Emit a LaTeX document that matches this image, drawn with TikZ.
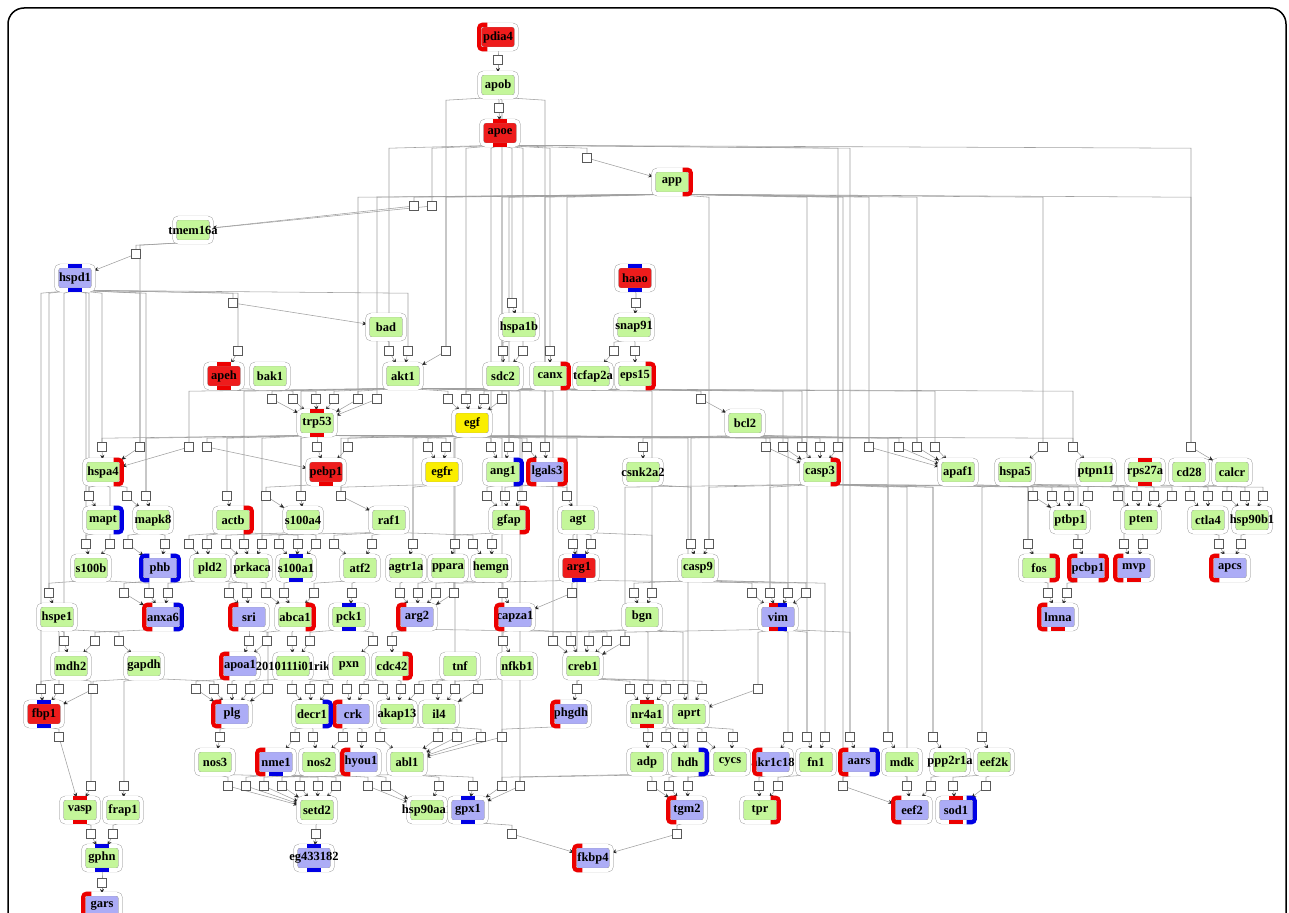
\documentclass[tikz,border=0pt]{standalone}
\usepackage{fontspec}
\setmainfont{Liberation Serif}
\usetikzlibrary{arrows.meta}
\pgfdeclarelayer{bg}
\pgfsetlayers{bg,main}
\definecolor{gfill}{RGB}{196,246,154}
\definecolor{rfill}{RGB}{238,28,28}
\definecolor{bfill}{RGB}{172,172,246}
\definecolor{yfill}{RGB}{250,238,0}
\definecolor{rbar}{RGB}{236,0,0}
\definecolor{bbar}{RGB}{0,0,228}
\tikzset{
  gene/.style={draw=gray!85, double=white, double distance=3.6pt, rounded corners=4pt,
    minimum width=37pt, minimum height=24pt, inner sep=0pt, text=black,
    font=\fontsize{12.5}{12.5}\selectfont\bfseries,
    execute at begin node={\hbox to 0pt\bgroup\hss}, execute at end node={\hss\egroup}},
  gn/.style={gene, fill=gfill},
  rn/.style={gene, fill=rfill},
  bn/.style={gene, fill=bfill},
  yn/.style={gene, fill=yfill},
  rxn/.style={draw=gray!70!black, fill=white, minimum size=8.5pt, inner sep=0pt, line width=0.6pt},
  link/.style={draw=gray!75, line width=0.55pt},
  arr/.style={-{Stealth[length=5pt,width=4pt,color=black!85]}},
  bar/.style={draw=#1, line width=4.2pt, rounded corners=3pt},
}
\begin{document}
\begin{tikzpicture}[x=1pt, y=-1pt]
  \useasboundingbox (0,0) rectangle (1289,912);
  \draw[line width=1.5pt, rounded corners=16pt] (8,940) -- (8,8) -- (1286,8) -- (1286,940);
  \path
    (498,37) node[rn] (pdia4) {pdia4}
    (498,85) node[gn] (apob) {apob}
    (500,133) node[rn] (apoe) {apoe}
    (672,182) node[gn] (app) {app}
    (193,230) node[gn] (tmem16a) {tmem16a}
    (75,278) node[bn] (hspd1) {hspd1}
    (635,278) node[rn] (haao) {haao}
    (386,327) node[gn] (bad) {bad}
    (519,327) node[gn] (hspa1b) {hspa1b}
    (634,327) node[gn] (snap91) {snap91}
    (224,376) node[rn] (apeh) {apeh}
    (270,376) node[gn] (bak1) {bak1}
    (403,376) node[gn] (akt1) {akt1}
    (503,376) node[gn] (sdc2) {sdc2}
    (550,376) node[gn] (canx) {canx}
    (593,376) node[gn] (tcfap2a) {tcfap2a}
    (635,376) node[gn] (eps15) {eps15}
    (317,423) node[gn] (trp53) {trp53}
    (472,423) node[yn] (egf) {egf}
    (745,423) node[gn] (bcl2) {bcl2}
    (103,472) node[gn] (hspa4) {hspa4}
    (326,472) node[rn] (pebp1) {pebp1}
    (442,472) node[yn] (egfr) {egfr}
    (503,472) node[gn] (ang1) {ang1}
    (547,472) node[bn] (lgals3) {lgals3}
    (643,472) node[gn] (csnk2a2) {csnk2a2}
    (820,472) node[gn] (casp3) {casp3}
    (958,472) node[gn] (apaf1) {apaf1}
    (1015,472) node[gn] (hspa5) {hspa5}
    (1096,472) node[gn] (ptpn11) {ptpn11}
    (1145,472) node[gn] (rps27a) {rps27a}
    (1189,472) node[gn] (cd28) {cd28}
    (1232,472) node[gn] (calcr) {calcr}
    (103,520) node[gn] (mapt) {mapt}
    (153,520) node[gn] (mapk8) {mapk8}
    (233,520) node[gn] (actb) {actb}
    (303,520) node[gn] (s100a4) {s100a4}
    (389,520) node[gn] (raf1) {raf1}
    (509,520) node[gn] (gfap) {gfap}
    (578,520) node[gn] (agt) {agt}
    (1070,520) node[gn] (ptbp1) {ptbp1}
    (1141,520) node[gn] (pten) {pten}
    (1208,520) node[gn] (ctla4) {ctla4}
    (1252,520) node[gn] (hsp90b1) {hsp90b1}
    (91,568) node[gn] (s100b) {s100b}
    (160,568) node[bn] (phb) {phb}
    (210,568) node[gn] (pld2) {pld2}
    (252,568) node[gn] (prkaca) {prkaca}
    (296,568) node[gn] (s100a1) {s100a1}
    (360,568) node[gn] (atf2) {atf2}
    (406,568) node[gn] (agtr1a) {agtr1a}
    (448,568) node[gn] (ppara) {ppara}
    (491,568) node[gn] (hemgn) {hemgn}
    (579,568) node[rn] (arg1) {arg1}
    (698,568) node[gn] (casp9) {casp9}
    (1039,568) node[gn] (fos) {fos}
    (1088,568) node[bn] (pcbp1) {pcbp1}
    (1134,568) node[bn] (mvp) {mvp}
    (1230,568) node[bn] (apcs) {apcs}
    (57,617) node[gn] (hspe1) {hspe1}
    (163,617) node[bn] (anxa6) {anxa6}
    (249,617) node[bn] (sri) {sri}
    (295,617) node[gn] (abca1) {abca1}
    (349,617) node[gn] (pck1) {pck1}
    (417,617) node[bn] (arg2) {arg2}
    (515,617) node[bn] (capza1) {capza1}
    (642,617) node[gn] (bgn) {bgn}
    (778,617) node[bn] (vim) {vim}
    (1058,617) node[bn] (lmna) {lmna}
    (71,666) node[gn] (mdh2) {mdh2}
    (144,666) node[gn] (gapdh) {gapdh}
    (240,666) node[bn] (apoa1) {apoa1}
    (293,666) node[gn] (rik) {2010111i01rik}
    (349,666) node[gn] (pxn) {pxn}
    (392,666) node[gn] (cdc42) {cdc42}
    (460,666) node[gn] (tnf) {tnf}
    (517,666) node[gn] (nfkb1) {nfkb1}
    (583,666) node[gn] (creb1) {creb1}
    (44,714) node[rn] (fbp1) {fbp1}
    (232,714) node[bn] (plg) {plg}
    (312,714) node[gn] (decr1) {decr1}
    (353,714) node[bn] (crk) {crk}
    (397,714) node[gn] (akap13) {akap13}
    (439,714) node[gn] (il4) {il4}
    (571,714) node[bn] (phgdh) {phgdh}
    (647,714) node[gn] (nr4a1) {nr4a1}
    (689,714) node[gn] (aprt) {aprt}
    (215,762) node[gn] (nos3) {nos3}
    (276,762) node[bn] (nme1) {nme1}
    (319,762) node[gn] (nos2) {nos2}
    (361,762) node[bn] (hyou1) {hyou1}
    (407,762) node[gn] (abl1) {abl1}
    (647,762) node[gn] (adp) {adp}
    (688,762) node[gn] (hdh) {hdh}
    (730,762) node[gn] (cycs) {cycs}
    (773,762) node[bn] (akr1c18) {akr1c18}
    (816,762) node[gn] (fn1) {fn1}
    (859,762) node[bn] (aars) {aars}
    (902,762) node[gn] (mdk) {mdk}
    (950,762) node[gn] (ppp2r1a) {ppp2r1a}
    (994,762) node[gn] (eef2k) {eef2k}
    (80,810) node[gn] (vasp) {vasp}
    (123,810) node[gn] (frap1) {frap1}
    (317,810) node[gn] (setd2) {setd2}
    (427,810) node[gn] (hsp90aa1) {hsp90aa1}
    (468,810) node[bn] (gpx1) {gpx1}
    (687,810) node[bn] (tgm2) {tgm2}
    (760,810) node[gn] (tpr) {tpr}
    (912,810) node[bn] (eef2) {eef2}
    (956,810) node[bn] (sod1) {sod1}
    (102,858) node[gn] (gphn) {gphn}
    (314,858) node[bn] (eg433182) {eg433182}
    (593,858) node[bn] (fkbp4) {fkbp4}
    (102,906) node[bn] (gars) {gars};
  \foreach \n/\c in {pdia4/rbar, lgals3/rbar, phb/bbar, pcbp1/rbar, mvp/rbar, apcs/rbar,
      anxa6/rbar, sri/rbar, arg2/rbar, capza1/rbar, lmna/rbar, apoa1/rbar, plg/rbar,
      crk/rbar, phgdh/rbar, nme1/rbar, hyou1/rbar, akr1c18/rbar, aars/rbar, tgm2/rbar,
      eef2/rbar, fkbp4/rbar, gars/rbar}
    \draw[bar=\c] ([xshift=8pt]\n.north west) -- (\n.north west) -- (\n.south west) -- ([xshift=8pt]\n.south west);
  \foreach \n/\c in {app/rbar, canx/rbar, eps15/rbar, hspa4/rbar, ang1/bbar, lgals3/rbar,
      casp3/rbar, mapt/bbar, actb/rbar, gfap/rbar, phb/bbar, fos/rbar, pcbp1/rbar,
      anxa6/bbar, abca1/rbar, cdc42/rbar, decr1/bbar, hdh/bbar, aars/bbar, tpr/rbar, sod1/bbar}
    \draw[bar=\c] ([xshift=-8pt]\n.north east) -- (\n.north east) -- (\n.south east) -- ([xshift=-8pt]\n.south east);
  \foreach \n/\c in {apoe/rbar, hspd1/bbar, haao/bbar, apeh/rbar, trp53/rbar, rps27a/rbar,
      s100a1/bbar, arg1/bbar, pck1/bbar, fbp1/bbar, nr4a1/rbar, vasp/rbar, gpx1/bbar,
      sod1/rbar, gphn/bbar, eg433182/bbar}
    \draw[bar=\c] ([xshift=-7pt]\n.north) -- ([xshift=7pt]\n.north)
      ([xshift=-7pt]\n.south) -- ([xshift=7pt]\n.south);
  \foreach \n/\c in {pebp1/rbar, mvp/rbar, lmna/rbar, nme1/bbar, gars/rbar}
    \draw[bar=\c] ([xshift=-7pt]\n.south) -- ([xshift=7pt]\n.south);
  \draw[bar=rbar] ([xshift=-9pt]vim.north) -- (vim.north) ([xshift=-9pt]vim.south) -- (vim.south);
  \draw[bar=bbar] (vim.north) -- ([xshift=9pt]vim.north) (vim.south) -- ([xshift=9pt]vim.south);
  \foreach \x/\y/\s/\t in {
      498/60/pdia4/apob, 499/108/apob/apoe, 587/158/apoe/app,
      414/206/app/tmem16a, 432/206/apoe/tmem16a, 136/254/tmem16a/hspd1,
      233/303/hspd1/bad, 512/303/apoe/hspa1b, 636/303/haao/snap91,
      238/351/hspd1/apeh, 389/351/bad/akt1, 408/351/hspd1/akt1, 446/351/app/akt1,
      503/351/hspa1b/sdc2, 523/351/apoe/sdc2, 550/351/apoe/canx, 614/351/snap91/tcfap2a,
      635/351/snap91/eps15,
      272/399/akt1/trp53, 293/399/bak1/trp53, 316/399/apeh/trp53, 334/399/akt1/trp53,
      358/399/akt1/trp53, 377/399/app/trp53, 448/399/akt1/egf, 466/399/sdc2/egf,
      484/399/canx/egf, 502/399/app/egf, 701/399/eps15/bcl2,
      102/447/trp53/hspa4, 140/447/hspd1/hspa4, 189/447/akt1/hspa4, 207/447/trp53/pebp1,
      317/447/trp53/pebp1, 348/447/egf/pebp1, 428/447/egf/egfr, 446/447/trp53/egfr,
      491/447/egf/ang1, 509/447/akt1/ang1, 527/447/egf/lgals3, 545/447/app/lgals3,
      643/447/bcl2/csnk2a2, 766/447/bcl2/casp3, 783/447/akt1/casp3, 802/447/trp53/casp3,
      820/447/bcl2/casp3, 838/447/apoe/casp3, 869/447/app/apaf1, 899/447/bcl2/apaf1,
      917/447/trp53/apaf1, 935/447/akt1/apaf1, 1043/447/app/hspa5, 1073/447/trp53/ptpn11,
      1191/447/app/calcr,
      89/496/hspa4/mapt, 127/496/hspa4/mapk8, 146/496/hspd1/mapk8, 227/496/trp53/actb,
      266/496/pebp1/s100a4, 301/496/trp53/s100a4, 341/496/egfr/raf1, 487/496/ang1/gfap,
      505/496/lgals3/gfap, 522/496/egf/gfap, 567/496/ang1/agt, 1033/496/hspa5/ptbp1,
      1052/496/apaf1/ptbp1, 1069/496/casp3/ptbp1, 1088/496/ptpn11/ptbp1, 1118/496/hspa5/pten,
      1137/496/ptpn11/pten, 1154/496/rps27a/pten, 1172/496/casp3/pten, 1190/496/cd28/ctla4,
      1208/496/rps27a/ctla4, 1227/496/calcr/hsp90b1, 1245/496/cd28/hsp90b1,
      1263/496/hspa5/hsp90b1,
      86/544/mapt/s100b, 110/544/hspa4/s100b, 128/544/mapk8/phb, 165/544/mapk8/phb,
      189/544/actb/pld2, 207/544/actb/pld2, 226/544/s100a4/prkaca, 244/544/actb/prkaca,
      262/544/raf1/prkaca, 279/544/s100a4/s100a1, 298/544/actb/s100a1, 316/544/s100a4/s100a1,
      334/544/raf1/atf2, 372/544/raf1/atf2, 413/544/egfr/agtr1a, 455/544/gfap/ppara,
      473/544/raf1/hemgn, 492/544/gfap/hemgn, 573/544/agt/arg1, 591/544/agt/arg1,
      691/544/csnk2a2/casp9, 709/544/casp3/casp9, 1028/544/hspa5/fos, 1078/544/ptbp1/pcbp1,
      1124/544/ptpn11/mvp, 1143/544/pten/mvp, 1219/544/ctla4/apcs, 1241/544/hsp90b1/apcs,
      49/593/s100b/hspe1, 124/593/phb/anxa6, 149/593/s100b/anxa6, 168/593/pld2/anxa6,
      229/593/prkaca/sri, 247/593/pld2/sri, 266/593/prkaca/abca1, 284/593/s100a1/abca1,
      314/593/atf2/abca1, 352/593/atf2/pck1, 400/593/agtr1a/arg2, 418/593/ppara/arg2,
      436/593/hemgn/arg2, 454/593/arg1/arg2, 503/593/hemgn/capza1, 572/593/arg1/capza1,
      634/593/casp9/bgn, 652/593/agt/bgn, 752/593/casp9/vim, 770/593/casp3/vim,
      788/593/arg1/vim, 806/593/casp9/vim, 1048/593/fos/lmna, 1067/593/pcbp1/lmna,
      64/641/hspe1/mdh2, 95/641/anxa6/mdh2, 119/641/hspe1/gapdh, 249/641/sri/apoa1,
      267/641/abca1/apoa1, 292/641/abca1/rik, 310/641/pck1/rik, 373/641/pck1/pxn,
      392/641/arg2/cdc42, 503/641/capza1/nfkb1, 553/641/bgn/creb1, 571/641/capza1/creb1,
      589/641/bgn/creb1, 607/641/arg2/creb1, 625/641/vim/creb1,
      41/689/mdh2/fbp1, 59/689/hspe1/fbp1, 93/689/gapdh/fbp1, 196/689/apoa1/plg,
      214/689/gapdh/plg, 232/689/apoa1/plg, 250/689/rik/plg, 268/689/sri/plg,
      292/689/rik/decr1, 310/689/pxn/decr1, 328/689/rik/decr1, 347/689/pxn/crk,
      364/689/cdc42/crk, 383/689/pxn/akap13, 401/689/cdc42/akap13, 419/689/tnf/akap13,
      437/689/tnf/il4, 455/689/nfkb1/il4, 478/689/tnf/il4, 577/689/creb1/phgdh,
      630/689/creb1/nr4a1, 648/689/bgn/nr4a1, 666/689/creb1/nr4a1, 683/689/bgn/aprt,
      702/689/creb1/aprt, 758/689/vim/aprt,
      59/737/fbp1/vasp, 220/737/plg/nos3, 295/737/decr1/nme1, 313/737/decr1/nos2,
      343/737/crk/nos2, 362/737/crk/hyou1, 380/737/akap13/abl1, 438/737/il4/abl1,
      457/737/akap13/abl1, 481/737/il4/abl1, 502/737/phgdh/abl1, 648/737/nr4a1/adp,
      666/737/aprt/hdh, 683/737/nr4a1/hdh, 702/737/aprt/cycs, 733/737/aprt/cycs,
      788/737/vim/akr1c18, 807/737/vim/fn1, 825/737/casp9/fn1, 850/737/vim/aars,
      888/737/casp3/mdk, 933/737/casp3/ppp2r1a, 982/737/hspa5/eef2k,
      91/786/mdh2/vasp, 124/786/gapdh/frap1, 228/786/nos3/setd2, 246/786/nme1/setd2,
      264/786/nos2/setd2, 282/786/hyou1/setd2, 300/786/abl1/setd2, 318/786/nos3/setd2,
      336/786/nme1/setd2, 368/786/nos2/hsp90aa1, 386/786/hyou1/hsp90aa1,
      439/786/abl1/hsp90aa1, 473/786/abl1/gpx1, 502/786/adp/gpx1, 520/786/hdh/gpx1,
      652/786/adp/tgm2, 669/786/hdh/tgm2, 688/786/cycs/tgm2, 759/786/akr1c18/tpr,
      778/786/fn1/tpr, 843/786/aars/eef2, 907/786/mdk/eef2, 931/786/ppp2r1a/eef2,
      953/786/eef2k/sod1, 986/786/eef2k/sod1,
      91/834/vasp/gphn, 113/834/frap1/gphn, 316/834/setd2/eg433182, 512/834/gpx1/fkbp4,
      677/834/tgm2/fkbp4, 102/883/gphn/gars}
  {
    \node[rxn] (q\y r\x) at (\x,\y) {};
    \begin{pgfonlayer}{bg}
      \draw[link] (\s.south) -- ([yshift=-3pt]\s.south -| q\y r\x.north) -- (q\y r\x.north);
      \draw[link, arr] (q\y r\x) -- (\t);
    \end{pgfonlayer}
  }
  \begin{pgfonlayer}{bg}
    \foreach \s/\r in {apoe/q351r389, app/q399r358, apoe/q399r466, app/q447r509,
        apoe/q447r491, akt1/q447r802, egf/q447r869, app/q447r917, akt1/q447r1073,
        apoe/q447r1191, egf/q496r341, akt1/q496r301, trp53/q496r146, akt1/q544r244,
        egf/q544r413, trp53/q544r262, app/q544r709, bcl2/q544r691, casp3/q544r1028,
        hspa5/q544r1078, egf/q593r454, akt1/q593r652, trp53/q593r770, bcl2/q593r788,
        casp3/q641r625, akt1/q641r553, egf/q689r455, trp53/q689r577, app/q737r807,
        apoe/q737r850, casp3/q737r933, bcl2/q737r888, egf/q786r502, akt1/q786r520,
        trp53/q786r688, app/q786r843, casp3/q786r907, hspd1/q447r102, hspd1/q496r89,
        hspd1/q544r86, hspd1/q593r49, hspd1/q641r64, hspd1/q689r41, tmem16a/q447r140,
        apob/q351r446, apob/q399r502, apob/q447r545, app/q496r567, app/q447r838}
      \draw[link] (\s.south) -- ([yshift=-3pt]\s.south -| \r.north) -- (\r.north);
  \end{pgfonlayer}
\end{tikzpicture}
\end{document}
